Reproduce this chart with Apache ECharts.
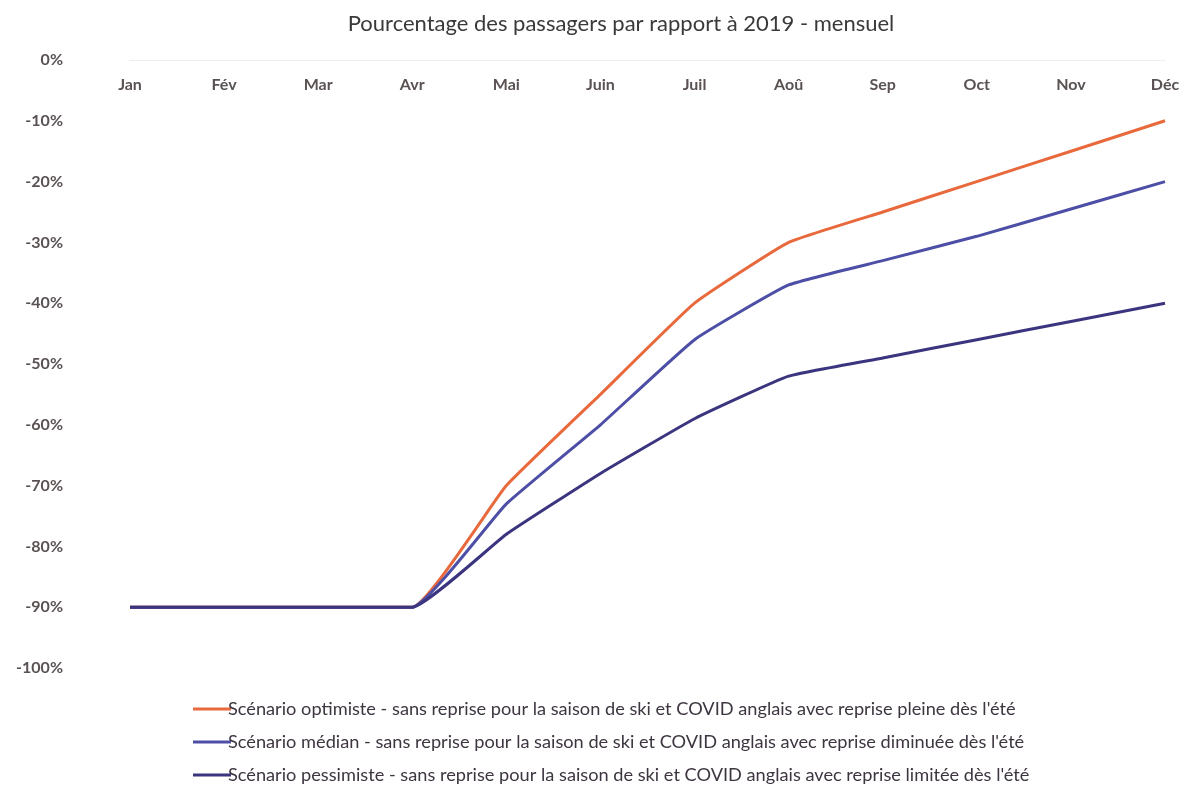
<!DOCTYPE html>
<html><head><meta charset="utf-8">
<script src="https://cdn.jsdelivr.net/npm/echarts@6/dist/echarts.min.js"></script>
<style>html,body{margin:0;padding:0;background:#fff}#c{width:1188px;height:787px}</style>
</head><body><div id="c"></div>
<script>
const months = ['Jan','Fév','Mar','Avr','Mai','Juin','Juil','Aoû','Sep','Oct','Nov','Déc'];
const optimiste = [-90,-90,-90,-90,-70,-55,-40,-30,-25,-20,-15,-10];
const median = [-90,-90,-90,-90,-73,-60,-46,-37,-33,-29,-24.5,-20];
const pessimiste = [-90,-90,-90,-90,-78,-68,-59,-52,-49,-46,-43,-40];
const names = [
  "Scénario optimiste - sans reprise pour la saison de ski et COVID anglais avec reprise pleine dès l'été",
  "Scénario médian - sans reprise pour la saison de ski et COVID anglais avec reprise diminuée dès l'été",
  "Scénario pessimiste - sans reprise pour la saison de ski et COVID anglais avec reprise limitée dès l'été"
];
const colors = ['#E8693C','#4D4FA6','#3B3580'];
const font = 'Lato';
const chart = echarts.init(document.getElementById('c'));
function mk(name, data, color){
  return {name, type:'line', data, smooth:0.12, showSymbol:false, symbol:'none',
    lineStyle:{color, width:3}, itemStyle:{color}};
}
chart.setOption({
  animation:false,
  textStyle:{fontFamily:font},
  title:{text:'Pourcentage des passagers par rapport à 2019 - mensuel', left:616, textAlign:'center', top:8,
    textStyle:{fontFamily:font, fontSize:22, fontWeight:'normal', color:'#3a3a3a'}},
  grid:{left:130, right:23, top:60, bottom:119},
  legend:{orient:'vertical', left:188, top:695, height:110, width:950, itemWidth:38, itemHeight:3, itemGap:15,
    icon:'rect', data:names,
    textStyle:{fontFamily:font, fontSize:18.2, color:'#3d3540', padding:[0,0,0,-8]}},
  xAxis:{type:'category', data:months, boundaryGap:false, position:'top',
    axisLine:{lineStyle:{color:'#eeeeee', width:1}},
    axisTick:{show:false},
    axisLabel:{inside:true, margin:17, fontFamily:font, fontSize:16, fontWeight:'bold', color:'#5a5252'}},
  yAxis:{type:'value', min:-100, max:0, interval:10,
    axisLine:{show:false}, axisTick:{show:false}, splitLine:{show:false},
    axisLabel:{formatter:v=>v+'%', margin:67, fontFamily:font, fontSize:16, fontWeight:'bold', color:'#5a5252'}},
  series:[mk(names[0], optimiste, colors[0]), mk(names[1], median, colors[1]), mk(names[2], pessimiste, colors[2])]
});
</script></body></html>
